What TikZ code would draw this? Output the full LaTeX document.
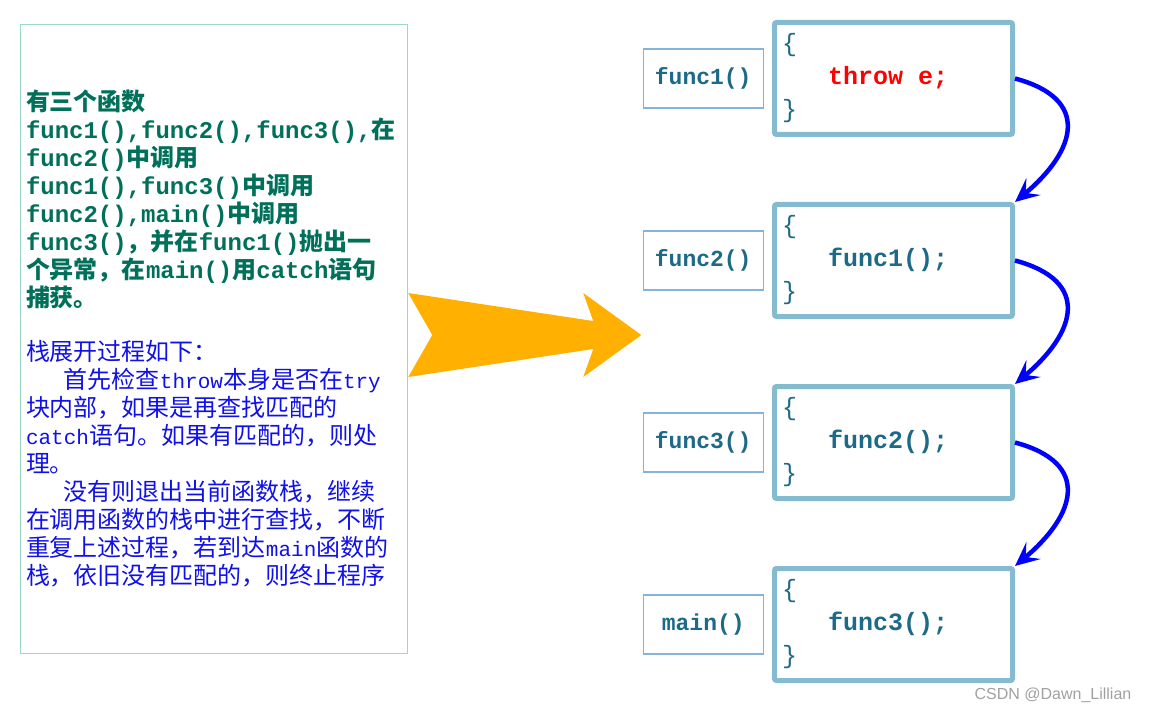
\documentclass[tikz,border=0pt]{standalone}
\usepackage{fontspec}
\setmainfont{Noto Sans CJK SC}
\newfontfamily\codefont{Liberation Mono}
\newfontfamily\monogfont{Liberation Mono}
\newfontfamily\monobfont[Scale=0.875]{Liberation Mono}
\newfontfamily\markfont{Liberation Sans}
\usetikzlibrary{positioning, calc, arrows.meta}
\definecolor{noteEdge}{HTML}{9AD9C7}
\definecolor{noteGreen}{HTML}{00705A}
\definecolor{noteBlue}{HTML}{1010E8}
\definecolor{bodyEdge}{HTML}{85BBCF}
\definecolor{nameEdge}{HTML}{84B4DE}
\definecolor{codeTeal}{HTML}{1D6A88}
\definecolor{throwRed}{HTML}{FF0000}
\definecolor{curlBlue}{HTML}{0000FF}
\definecolor{arrowOrange}{HTML}{FFB000}
\definecolor{markGray}{HTML}{A0A0A0}
\newcommand{\monog}[1]{{\monogfont #1}}
\newcommand{\monob}[1]{{\monobfont #1}}

\begin{document}
\begin{tikzpicture}[
  x=1pt, y=1pt,
  body/.style={draw=bodyEdge, line width=5pt, rounded corners=2pt, minimum width=238pt, minimum height=112pt,
    text width=223pt, align=left, text=codeTeal, font=\codefont\bfseries\fontsize{25}{33}\selectfont},
  fname/.style={draw=nameEdge, line width=1.5pt, minimum width=120pt, minimum height=59pt,
    text=codeTeal, font=\codefont\bfseries\fontsize{23}{28}\selectfont},
  curl/.style={-{Stealth[length=24pt, width=22pt, inset=10pt]}, line width=4.5pt, draw=curlBlue}
]
\useasboundingbox (0,0) rectangle (1149,-714);

% explanation on the left
\node[draw=noteEdge, line width=1.5pt, minimum width=387pt, minimum height=629pt, text width=376pt,
  align=left, inner xsep=5pt, font=\fontsize{24}{28}\selectfont] (note) at (214,-339) {%
\color{noteGreen}\bfseries
有三个函数\\
\monog{func1(),func2(),func3(),}在\\
\monog{func2()}中调用\\
\monog{func1(),func3()}中调用\\
\monog{func2(),main()}中调用\\
\monog{func3()}，并在\monog{func1()}抛出一\\
个异常，在\monog{main()}用\monog{catch}语句\\
捕获。\\[26pt]
\color{noteBlue}\mdseries
栈展开过程如下：\\
\hspace*{38pt}首先检查\monob{throw}本身是否在\monob{try}\\
块内部，如果是再查找匹配的\\
\monob{catch}语句。如果有匹配的，则处\\
理。\\
\hspace*{38pt}没有则退出当前函数栈，继续\\
在调用函数的栈中进行查找，不断\\
重复上述过程，若到达\monob{main}函数的\\
栈，依旧没有匹配的，则终止程序};

% call stack
\node[body] (f1body) at (893.5,-78.5) {{\mdseries\{}\\\hspace*{46pt}\textcolor{throwRed}{throw\hspace{15pt}e;}\\{\mdseries\}}};
\node[body, below=65pt of f1body] (f2body) {{\mdseries\{}\\\hspace*{46pt}func1();\\{\mdseries\}}};
\node[body, below=65pt of f2body] (f3body) {{\mdseries\{}\\\hspace*{46pt}func2();\\{\mdseries\}}};
\node[body, below=65pt of f3body] (mainbody) {{\mdseries\{}\\\hspace*{46pt}func3();\\{\mdseries\}}};

\node[fname, left=8pt of f1body] (f1name) {func1()};
\node[fname, left=8pt of f2body] (f2name) {func2()};
\node[fname, left=8pt of f3body] (f3name) {func3()};
\node[fname, left=8pt of mainbody] (mainname) {main()};

\draw[curl] (f1body.east) to[out=-15, in=40, looseness=1.65] (f2body.north east);
\draw[curl] (f2body.east) to[out=-15, in=40, looseness=1.65] (f3body.north east);
\draw[curl] (f3body.east) to[out=-15, in=40, looseness=1.65] (mainbody.north east);

% big arrow
\fill[arrowOrange, shift={($(note.east)+(0,4)$)}] (0,42) -- (24,0) -- (0,-42) -- (185,-14) -- (175,-42)
  -- (233,0) -- (175,42) -- (185,14) -- cycle;

\node[font=\markfont\fontsize{16}{18}\selectfont, text=markGray] (mark) at (1053,-695) {CSDN @Dawn\_Lillian};
\end{tikzpicture}
\end{document}
